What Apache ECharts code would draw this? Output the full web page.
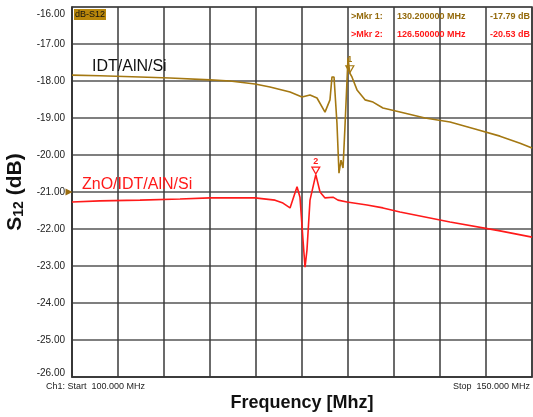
<!DOCTYPE html>
<html>
<head>
<meta charset="utf-8">
<script src="https://cdn.jsdelivr.net/npm/echarts@6/dist/echarts.min.js"></script>
<style>
  html, body { margin: 0; padding: 0; background: #fff; }
  #chart { width: 533px; height: 417px; }
</style>
</head>
<body>
<div id="chart"></div>
<script>
// IDT/AlN/Si trace (brown)
var freqA = [100, 103.04, 107.39, 110.65, 115.0, 117.17, 119.89, 121.52, 123.70, 125.0, 125.87, 126.63, 127.5, 128.04, 128.26, 128.48, 128.80, 129.02, 129.24, 129.46, 129.67, 130.0, 130.2, 130.43, 130.98, 131.85, 132.72, 133.80, 135.65, 138.37, 141.09, 143.80, 146.52, 148.70, 150];
var dbA = [-17.84, -17.86, -17.89, -17.92, -17.97, -18.0, -18.08, -18.16, -18.30, -18.43, -18.38, -18.46, -18.84, -18.51, -17.89, -17.89, -19.14, -20.49, -20.14, -20.35, -19.24, -17.38, -17.79, -17.89, -18.24, -18.51, -18.57, -18.73, -18.84, -19.0, -19.11, -19.30, -19.49, -19.68, -19.81];
// ZnO/IDT/AlN/Si trace (red)
var freqB = [100, 103.04, 107.39, 111.74, 115.0, 119.89, 122.07, 122.93, 123.70, 124.46, 124.78, 125.11, 125.33, 125.54, 125.87, 126.5, 126.96, 127.5, 128.37, 128.91, 129.89, 132.07, 133.80, 135.65, 141.09, 146.52, 150];
var dbB = [-21.27, -21.24, -21.22, -21.19, -21.16, -21.16, -21.22, -21.30, -21.43, -20.86, -21.14, -22.30, -23.03, -22.57, -21.22, -20.53, -21.0, -21.16, -21.14, -21.22, -21.27, -21.35, -21.43, -21.54, -21.81, -22.05, -22.22];

var mkr1 = [130.2, -17.79];
var mkr2 = [126.5, -20.53];
var yTicks = [-26, -25, -24, -23, -22, -21, -20, -19, -18, -17, -16];

var brown = '#a47812';
var red = '#ff1a1a';

function pairs(xs, ys) {
  return xs.map(function (x, i) { return [x, ys[i]]; });
}

var chart = echarts.init(document.getElementById('chart'));
var option = {
  animation: false,
  grid: {
    left: 72, right: 1, top: 7, bottom: 40, outerBoundsMode: 'none', containLabel: false,
    show: true, borderColor: '#333', borderWidth: 1.5
  },
  xAxis: {
    type: 'value', min: 100, max: 150, interval: 5,
    axisLabel: { show: false }, axisTick: { show: false },
    axisLine: { lineStyle: { color: '#333', width: 1.5 } },
    splitLine: { lineStyle: { color: '#3a3a3a', width: 1.5 } },
    name: 'Frequency [Mhz]', nameLocation: 'middle', nameGap: 17,
    nameTextStyle: { fontFamily: 'Liberation Sans', fontWeight: 'bold', fontSize: 18, color: '#111', verticalAlign: 'top' }
  },
  yAxis: {
    type: 'value', min: -26, max: -16, interval: 1,
    axisTick: { show: false },
    axisLine: { lineStyle: { color: '#333', width: 1.5 } },
    splitLine: { lineStyle: { color: '#555', width: 1.5 } },
    axisLabel: {
      margin: 7, fontFamily: 'Liberation Sans', fontSize: 10, color: '#222',
      formatter: function (v) {
        if (yTicks.indexOf(v) < 0) return '';
        if (v === -16) return '{top|' + v.toFixed(2) + '}';
        if (v === -26) return '{bot|' + v.toFixed(2) + '}';
        return v.toFixed(2);
      },
      rich: {
        top: { fontFamily: 'Liberation Sans', fontSize: 10, color: '#222', padding: [14, 0, 0, 0] },
        bot: { fontFamily: 'Liberation Sans', fontSize: 10, color: '#222', padding: [0, 0, 7, 0] }
      }
    },
    name: '{a|S}{b|12}{a| (dB)}', nameLocation: 'middle', nameGap: 35, nameRotate: 90,
    nameTextStyle: {
      rich: {
        a: { fontFamily: 'Liberation Sans', fontWeight: 'bold', fontSize: 21, color: '#111' },
        b: { fontFamily: 'Liberation Sans', fontWeight: 'bold', fontSize: 14, color: '#111', verticalAlign: 'bottom', padding: [8, 0, 0, 0] }
      }
    }
  },
  series: [
    {
      type: 'line', data: pairs(freqA, dbA), showSymbol: false, z: 3,
      lineStyle: { color: brown, width: 1.6 },
      markPoint: {
        symbol: 'triangle', symbolSize: [8, 7], symbolRotate: 180, symbolOffset: [0, -4],
        itemStyle: { color: 'rgba(0,0,0,0)', borderColor: brown, borderWidth: 1.2 },
        label: { show: true, position: 'top', distance: 1, formatter: '1', color: brown, fontSize: 9, fontWeight: 'bold' },
        data: [{ coord: mkr1 }]
      }
    },
    {
      type: 'line', data: pairs(freqB, dbB), showSymbol: false, z: 4,
      lineStyle: { color: red, width: 1.6 },
      markPoint: {
        data: [
          {
            coord: mkr2, symbol: 'triangle', symbolSize: [8, 7], symbolRotate: 180, symbolOffset: [0, -4],
            itemStyle: { color: 'rgba(0,0,0,0)', borderColor: red, borderWidth: 1.2 },
            label: { show: true, position: 'top', distance: 1, formatter: '2', color: red, fontSize: 9, fontWeight: 'bold' }
          },
          {
            coord: [100, -21], symbol: 'triangle', symbolSize: [7, 7], symbolRotate: -90, symbolOffset: [-3, 0],
            itemStyle: { color: '#9a6d10' }, label: { show: false }
          }
        ]
      }
    }
  ],
  graphic: [
    { type: 'rect', left: 74, top: 9, shape: { width: 32, height: 11 }, style: { fill: '#b8860b' }, z: 10 },
    { type: 'text', left: 75, top: 10, style: { text: 'dB-S12', font: '9px Liberation Sans', fill: '#111' }, z: 11 },
    { type: 'text', left: 351, top: 12, style: { text: '>Mkr 1:', font: 'bold 9px Liberation Sans', fill: '#946a0c' }, z: 11 },
    { type: 'text', left: 397, top: 12, style: { text: '130.200000 MHz', font: 'bold 9px Liberation Sans', fill: '#946a0c' }, z: 11 },
    { type: 'text', left: 490, top: 12, style: { text: '-17.79 dB', font: 'bold 9px Liberation Sans', fill: '#946a0c' }, z: 11 },
    { type: 'text', left: 351, top: 30, style: { text: '>Mkr 2:', font: 'bold 9px Liberation Sans', fill: red }, z: 11 },
    { type: 'text', left: 397, top: 30, style: { text: '126.500000 MHz', font: 'bold 9px Liberation Sans', fill: red }, z: 11 },
    { type: 'text', left: 490, top: 30, style: { text: '-20.53 dB', font: 'bold 9px Liberation Sans', fill: red }, z: 11 },
    { type: 'text', left: 92, top: 59, style: { text: 'IDT/AlN/Si', font: '16px Liberation Sans', fill: '#111' }, z: 11 },
    { type: 'text', left: 82, top: 177, style: { text: 'ZnO/IDT/AlN/Si', font: '16px Liberation Sans', fill: red }, z: 11 },
    { type: 'text', left: 46, top: 382, style: { text: 'Ch1: Start  100.000 MHz', font: '9px Liberation Sans', fill: '#222' }, z: 11 },
    { type: 'text', right: 3, top: 382, style: { text: 'Stop  150.000 MHz', font: '9px Liberation Sans', fill: '#222' }, z: 11 }
  ]
};
chart.setOption(option);
</script>
</body>
</html>
